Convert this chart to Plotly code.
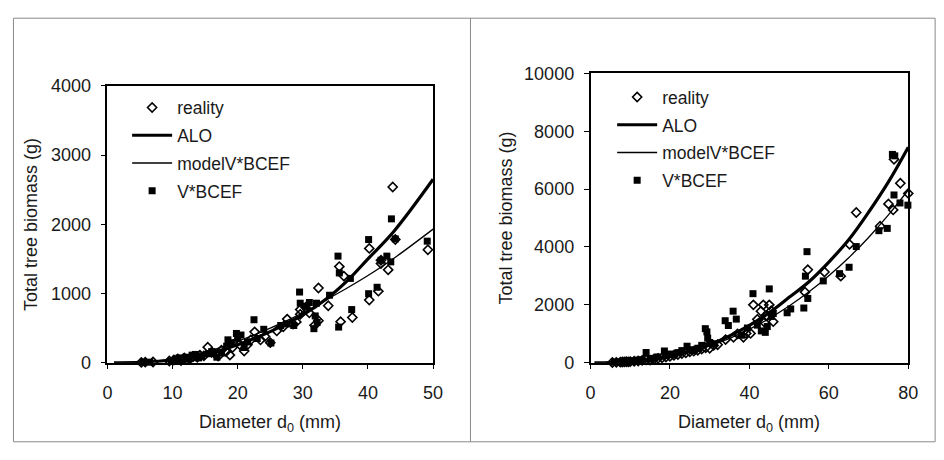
import plotly.graph_objects as go

# the page body keeps its default 8px margin, so the figure is drawn 8px in from the
# window's top-left corner; size it so it fits the 944x460 window without scrolling
OFF = 8
W, H = 944 - 2 * OFF, 460 - 2 * OFF
FONT = "Arial, Liberation Sans, sans-serif"

# ---- left panel: d0 up to 50 mm ----
left_reality_d = [5.2, 5.8, 7.0, 9.5, 10.2, 10.8, 11.3, 11.8, 12.2, 12.7, 13.2, 13.8, 14.2, 14.8, 15.4,
                  16.0, 16.5, 17.0, 17.5, 18.2, 18.8, 19.2, 19.8, 20.3, 21.0, 21.5, 22.0, 22.6, 23.5, 24.2,
                  25.0, 26.0, 27.0, 27.6, 28.5, 29.0, 29.6, 29.6, 30.4, 31.0, 31.8, 32.4, 32.4, 33.9, 35.6,
                  35.8, 36.3, 37.6, 40.2, 40.2, 41.6, 42.0, 42.0, 43.1, 43.8, 44.2, 49.2]
left_reality_g = [5, 8, 10, 25, 40, 55, 30, 70, 45, 60, 90, 80, 110, 100, 225,
                  150, 130, 95, 180, 160, 110, 220, 300, 262, 170, 260, 330, 446, 330, 380,
                  290, 460, 520, 630, 560, 590, 768, 699, 800, 720, 540, 1080, 607, 823, 1389,
                  593, 1251, 653, 1651, 906, 1034, 1434, 1480, 1342, 2538, 1780, 1632]
left_vbcef_d = [5.5, 6.5, 9.8, 10.5, 11.0, 11.5, 12.0, 12.5, 13.0, 13.5, 14.0, 14.5, 15.5, 16.0, 16.8,
                17.5, 18.3, 18.5, 19.0, 19.8, 20.0, 20.5, 21.0, 21.5, 22.5, 23.0, 24.0, 25.1, 26.6, 27.5,
                28.6, 29.5, 29.6, 30.4, 31.0, 31.7, 31.9, 32.1, 32.2, 34.1, 35.4, 35.5, 35.6, 37.3, 37.5,
                40.1, 40.1, 41.4, 42.0, 42.9, 43.5, 43.6, 44.2, 49.1]
left_vbcef_g = [5, 8, 20, 50, 70, 40, 80, 55, 110, 120, 70, 100, 130, 160, 80,
                140, 239, 331, 290, 423, 354, 400, 220, 300, 621, 350, 483, 285, 538, 560,
                538, 1021, 860, 814, 870, 492, 676, 860, 583, 975, 1540, 515, 1297, 1218, 768,
                1779, 997, 1090, 1480, 1540, 1457, 2078, 1789, 1756]
left_curve_d = [1, 5, 10, 15, 20, 25, 30, 34, 37, 40, 44, 50]
left_alo_g = [0, 5, 40, 120, 260, 450, 690, 950, 1200, 1500, 1900, 2650]
left_modelv_g = [0, 8, 55, 150, 310, 500, 720, 930, 1090, 1260, 1510, 1930]

# ---- right panel: d0 up to 80 mm ----
right_reality_d = [5.5, 6.5, 7.5, 8.0, 8.5, 9.0, 9.5, 10.0, 11.0, 12.0, 13.0, 14.0, 15.0, 16.0, 17.0,
                   18.0, 19.0, 20.0, 21.0, 22.0, 23.0, 24.0, 25.0, 26.0, 27.0, 28.0, 29.0, 30.0, 31.0, 32.0,
                   34.0, 36.0, 37.0, 38.5, 39.2, 40.3, 41.0, 42.0, 42.9, 43.5, 43.8, 44.2, 45.0, 45.5, 46.0,
                   54.0, 54.7, 58.9, 63.0, 65.2, 66.9, 72.9, 75.0, 76.2, 76.4, 78.0, 80.0]
right_reality_g = [10, 15, 20, 25, 30, 35, 30, 40, 50, 60, 80, 100, 90, 130, 150,
                   170, 200, 220, 260, 280, 320, 340, 380, 400, 430, 470, 520, 500, 600, 620,
                   800, 880, 1000, 880, 1013, 1013, 2000, 1500, 1782, 2000, 1396, 1617, 2000, 1800, 1420,
                   2442, 3212, 3135, 2993, 4092, 5191, 4719, 5490, 5281, 7030, 6205, 5852]
right_vbcef_d = [6.0, 7.0, 8.0, 9.0, 10.0, 11.0, 12.0, 13.0, 14.0, 15.0, 16.0, 17.0, 18.6, 19.0, 20.0,
                 21.0, 22.0, 23.0, 24.3, 25.0, 26.0, 27.0, 28.0, 28.9, 29.3, 29.5, 30.0, 31.0, 33.9, 34.7,
                 35.9, 36.7, 38.0, 39.5, 40.9, 42.0, 43.0, 44.0, 44.5, 45.0, 45.5, 46.0, 49.5, 50.4, 53.7,
                 54.1, 54.5, 54.7, 58.6, 62.7, 65.1, 66.9, 72.6, 74.7, 76.0, 76.6, 76.4, 77.9, 79.9]
right_vbcef_g = [20, 30, 40, 60, 50, 70, 90, 100, 353, 120, 150, 200, 406, 250, 300,
                 280, 350, 420, 571, 450, 420, 500, 600, 1178, 1066, 850, 700, 650, 1452, 1287,
                 1782, 1508, 950, 1200, 2387, 1300, 1100, 1050, 1250, 2552, 1600, 1700, 1727, 1859, 1891,
                 2992, 3839, 2222, 2828, 3079, 3300, 4015, 4564, 4643, 7200, 7150, 5798, 5522, 5446]
right_curve_d = [1, 5, 10, 15, 20, 25, 30, 35, 40, 45, 50, 55, 60, 65, 70, 75, 80]
right_alo_g = [0, 6, 40, 110, 225, 400, 630, 930, 1290, 1730, 2260, 2800, 3480, 4250, 5200, 6250, 7450]
right_modelv_g = [0, 6, 40, 105, 220, 380, 580, 840, 1160, 1530, 1960, 2450, 3010, 3630, 4330, 5110, 5970]

x_range = {"left": [0, 50], "right": [0, 80]}
y_range = {"left": [0, 4000], "right": [0, 10000]}


def px_x(p):
    # window pixel -> paper fraction
    return min(max((p - OFF) / W, 0.0005), 0.9995)


def px_y(p):
    return min(max(1 - (p - OFF) / H, 0.0005), 0.9995)


def add_panel(fig, xa, ya, leg, tag, reality, alo, modelv, vbcef):
    common = dict(xaxis=xa, yaxis=ya, legend=leg, cliponaxis=False)
    fig.add_trace(go.Scatter(x=reality[0], y=reality[1], mode="markers", name="reality",
                             legendgroup=tag + "a",
                             marker=dict(symbol="diamond-open", size=7, color="black",
                                         line=dict(width=1.6, color="black")), **common))
    fig.add_trace(go.Scatter(x=alo[0], y=alo[1], mode="lines", name="ALO", legendgroup=tag + "b",
                             line=dict(color="black", width=3.2, shape="spline"), **common))
    fig.add_trace(go.Scatter(x=modelv[0], y=modelv[1], mode="lines", name="modelV*BCEF",
                             legendgroup=tag + "c",
                             line=dict(color="black", width=1.3, shape="spline"), **common))
    fig.add_trace(go.Scatter(x=vbcef[0], y=vbcef[1], mode="markers", name="V*BCEF",
                             legendgroup=tag + "d",
                             marker=dict(symbol="square", size=7, color="black"), **common))


fig = go.Figure()
add_panel(fig, "x", "y", "legend", "L",
          (left_reality_d, left_reality_g), (left_curve_d, left_alo_g),
          (left_curve_d, left_modelv_g), (left_vbcef_d, left_vbcef_g))
add_panel(fig, "x2", "y2", "legend2", "R",
          (right_reality_d, right_reality_g), (right_curve_d, right_alo_g),
          (right_curve_d, right_modelv_g), (right_vbcef_d, right_vbcef_g))

axis_style = dict(showgrid=False, zeroline=False, showline=True, linecolor="black", linewidth=1.5,
                  mirror=True, ticks="outside", ticklen=5, tickwidth=1.2, tickcolor="black",
                  tickformat="d", tickfont=dict(family=FONT, size=18, color="#1a1a1a"))

legend_style = dict(xanchor="left", yanchor="top", bgcolor="rgba(0,0,0,0)",
                    font=dict(family=FONT, size=17.5, color="#1a1a1a"),
                    itemwidth=40, traceorder="grouped", tracegroupgap=2)

fig.update_layout(
    width=W, height=H,
    margin=dict(l=0, r=0, t=0, b=0),
    paper_bgcolor="white", plot_bgcolor="white",
    font=dict(family=FONT, size=18, color="#1a1a1a"),
    xaxis=dict(domain=[px_x(104), px_x(435)], range=x_range["left"], dtick=10, anchor="y",
               ticklabelstandoff=8, **axis_style),
    yaxis=dict(domain=[px_y(369), px_y(79)], range=y_range["left"], dtick=1000, anchor="x",
               ticklabelstandoff=6, **axis_style),
    xaxis2=dict(domain=[px_x(595), px_x(918)], range=x_range["right"], dtick=20, anchor="y2",
                ticklabelstandoff=8, **axis_style),
    yaxis2=dict(domain=[px_y(369), px_y(66)], range=y_range["right"], dtick=2000, anchor="x2",
                ticklabelstandoff=6, **axis_style),
    legend=dict(x=px_x(124), y=px_y(83), **legend_style),
    legend2=dict(x=px_x(617), y=px_y(72), **legend_style),
    showlegend=True,
)

# axis titles
for xc, yc, txt, ang in [(269.5, 433, "Diameter d<sub>0</sub> (mm)", 0),
                         (756.5, 433, "Diameter d<sub>0</sub> (mm)", 0),
                         (27, 224, "Total tree biomass (g)", -90),
                         (509, 217, "Total tree biomass (g)", -90)]:
    fig.add_annotation(x=px_x(xc), y=px_y(yc), xref="paper", yref="paper", text=txt,
                       showarrow=False, textangle=ang, xanchor="center", yanchor="middle",
                       font=dict(family=FONT, size=18, color="#1a1a1a"))

# grey frame around the two panels
frame = dict(color="#8a8a8a", width=1)
fig.add_shape(type="rect", xref="paper", yref="paper", x0=px_x(5), y0=px_y(457), x1=1.01,
              y1=px_y(7), line=frame)
fig.add_shape(type="line", xref="paper", yref="paper", x0=px_x(473), y0=px_y(457), x1=px_x(473),
              y1=px_y(7), line=frame)

fig.write_html("out.html")
